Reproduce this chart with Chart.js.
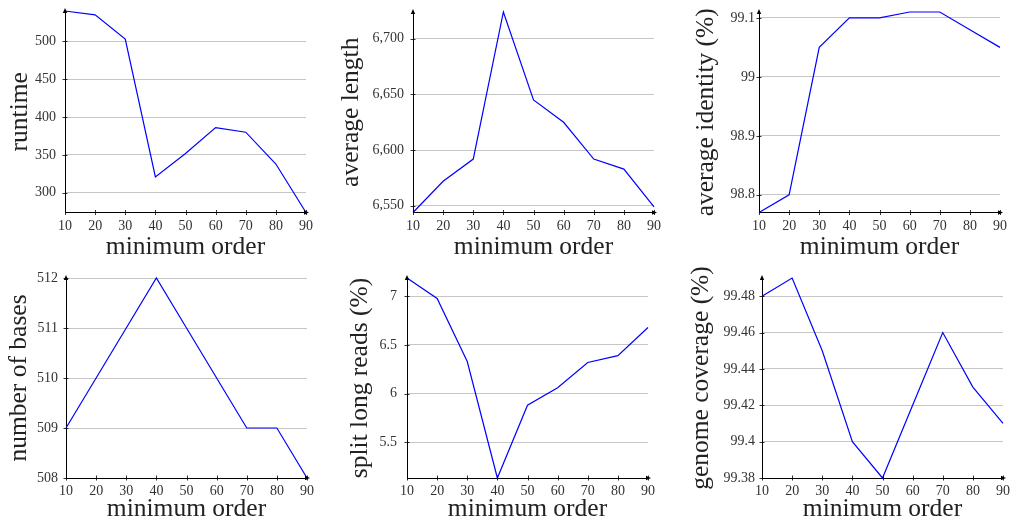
<!DOCTYPE html>
<html>
<head>
<meta charset="utf-8">
<script src="https://cdn.jsdelivr.net/npm/chart.js@4.4.1/dist/chart.umd.min.js"></script>
<style>
  body { margin: 0; background: #fff; width: 1013px; height: 527px; overflow: hidden; position: relative; }
  canvas { position: absolute; }
</style>
</head>
<body>
<canvas id="c1"></canvas>
<canvas id="c2"></canvas>
<canvas id="c3"></canvas>
<canvas id="c4"></canvas>
<canvas id="c5"></canvas>
<canvas id="c6"></canvas>
<script>
// data
var minOrder = ['10', '20', '30', '40', '50', '60', '70', '80', '90'];

var runtime     = [540, 535, 503, 321, 352, 386, 380, 338, 274];
var avgLength   = [6544, 6572, 6592, 6724, 6645, 6625, 6592, 6583, 6549];
var avgIdentity = [98.77, 98.80, 99.05, 99.10, 99.10, 99.11, 99.11, 99.08, 99.05];
var numBases    = [509, 510, 511, 512, 511, 510, 509, 509, 508];
var splitReads  = [7.19, 6.98, 6.33, 5.13, 5.88, 6.06, 6.32, 6.39, 6.68];
var genomeCov   = [99.48, 99.49, 99.45, 99.40, 99.38, 99.42, 99.46, 99.43, 99.41];

var runtimeTicks  = [300, 350, 400, 450, 500];
var lengthTicks   = [6550, 6600, 6650, 6700];
var identityTicks = [98.8, 98.9, 99, 99.1];
var basesTicks    = [508, 509, 510, 511, 512];
var splitTicks    = [5.5, 6, 6.5, 7];
var coverageTicks = [99.38, 99.4, 99.42, 99.44, 99.46, 99.48];

var serif = "'Liberation Serif', 'DejaVu Serif', serif";

// small tick marks across the axes + arrow tips, pgfplots style
var axisDeco = {
    id: 'axisDeco',
    afterDraw: function(chart) {
        var ctx = chart.ctx;
        var a = chart.chartArea;
        var xs = chart.scales.x, ys = chart.scales.y;
        ctx.save();
        ctx.strokeStyle = '#000';
        ctx.fillStyle = '#000';
        ctx.lineWidth = 0.8;
        ctx.beginPath();
        xs.ticks.forEach(function(t, i) {
            var px = Math.round(xs.getPixelForTick(i)) + 0.5;
            ctx.moveTo(px, a.bottom - 2.5);
            ctx.lineTo(px, a.bottom + 2.5);
        });
        ys.ticks.forEach(function(t) {
            var py = Math.round(ys.getPixelForValue(t.value)) + 0.5;
            ctx.moveTo(a.left - 2.5, py);
            ctx.lineTo(a.left + 2.5, py);
        });
        ctx.stroke();
        // arrow heads
        ctx.beginPath();
        ctx.moveTo(a.left, a.top - 3);
        ctx.lineTo(a.left - 2.2, a.top + 2);
        ctx.lineTo(a.left + 2.2, a.top + 2);
        ctx.closePath();
        ctx.fill();
        ctx.beginPath();
        ctx.moveTo(a.right + 3, a.bottom);
        ctx.lineTo(a.right - 2, a.bottom - 2.2);
        ctx.lineTo(a.right - 2, a.bottom + 2.2);
        ctx.closePath();
        ctx.fill();
        ctx.restore();
    }
};

function fmt(v) {
    return String(+v.toFixed(2));
}

function makePanel(id, data, yTicks, yTitle, box, fmtFn) {
    var padTop = 22, padRight = 16;
    var cv = document.getElementById(id);
    var w = box.yW + (box.right - box.left) + padRight;
    var h = padTop + (box.bottom - box.top) + box.xH;
    cv.width = Math.round(w);
    cv.height = Math.round(h);
    cv.style.left = (box.left - box.yW) + 'px';
    cv.style.top = (box.top - padTop) + 'px';

    return new Chart(cv.getContext('2d'), {
        type: 'line',
        data: {
            labels: minOrder,
            datasets: [{
                data: data,
                borderColor: '#0000ff',
                borderWidth: 1.2,
                pointRadius: 0,
                tension: 0,
                fill: false,
                clip: false
            }]
        },
        options: {
            responsive: false,
            animation: false,
            layout: { padding: { top: padTop, right: padRight, left: 0, bottom: 0 } },
            plugins: { legend: { display: false }, tooltip: { enabled: false } },
            scales: {
                x: {
                    offset: false,
                    grid: { display: false, drawTicks: false },
                    border: { display: true, color: '#000', width: 1 },
                    ticks: {
                        autoSkip: false, maxRotation: 0, padding: 5,
                        color: '#333', font: { family: serif, size: 14 }
                    },
                    title: {
                        display: true, text: 'minimum order', padding: 0,
                        color: '#222', font: { family: serif, size: 25.5 }
                    },
                    afterFit: function(s) { s.height = box.xH; }
                },
                y: {
                    min: Math.min.apply(null, data),
                    max: Math.max.apply(null, data),
                    grid: { color: '#c6c6c6', lineWidth: 1, drawTicks: false },
                    border: { display: true, color: '#000', width: 1 },
                    ticks: {
                        padding: box.tp,
                        color: '#333', font: { family: serif, size: 14 },
                        callback: function(v) { return (fmtFn || fmt)(v); }
                    },
                    afterBuildTicks: function(s) {
                        s.ticks = yTicks.map(function(v) { return { value: v }; });
                    },
                    title: {
                        display: true, text: yTitle, padding: 0,
                        color: '#222', font: { family: serif, size: 25.5 }
                    },
                    afterFit: function(s) { s.width = box.yW; }
                }
            }
        },
        plugins: [axisDeco]
    });
}

makePanel('c1', runtime, runtimeTicks, 'runtime',
    { left: 65, top: 11, right: 306, bottom: 212, yW: 60, xH: 50.5, tp: 9 });
makePanel('c2', avgLength, lengthTicks, 'average length',
    { left: 412.7, top: 11.7, right: 653.3, bottom: 211.7, yW: 77, xH: 50.5, tp: 9 },
    function(v) { return v.toLocaleString('en-US'); });
makePanel('c3', avgIdentity, identityTicks, 'average identity (%)',
    { left: 758.7, top: 11.5, right: 999.3, bottom: 211.7, yW: 68, xH: 50.5, tp: 4 });
makePanel('c4', numBases, basesTicks, 'number of bases',
    { left: 66, top: 278.3, right: 306.7, bottom: 478.3, yW: 62, xH: 47, tp: 8 });
makePanel('c5', splitReads, splitTicks, 'split long reads (%)',
    { left: 406.7, top: 278.3, right: 647.3, bottom: 478.3, yW: 62, xH: 47, tp: 10 });
makePanel('c6', genomeCov, coverageTicks, 'genome coverage (%)',
    { left: 761.7, top: 278.3, right: 1002.7, bottom: 478.3, yW: 76, xH: 47, tp: 7 });
</script>
</body>
</html>
